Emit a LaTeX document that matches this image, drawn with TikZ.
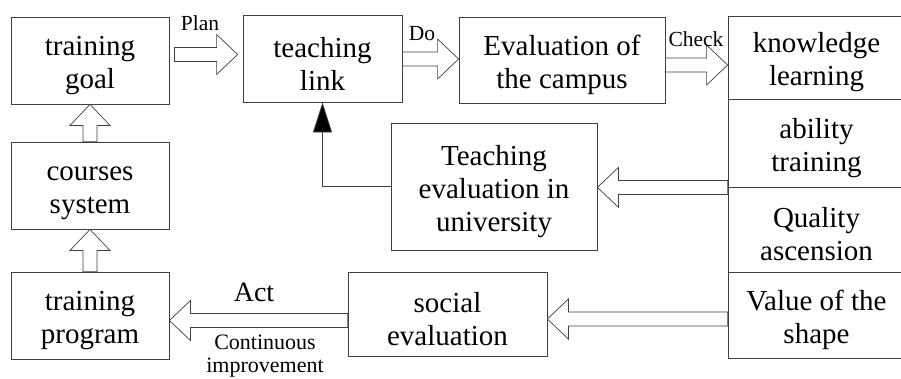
\documentclass[tikz,border=0pt]{standalone}
\usepackage{fontspec}
\setmainfont{Liberation Serif}
\usetikzlibrary{calc,arrows.meta}

% tall first line, so that the text sits a little low in its box
\newcommand{\tstrut}{\rule{0pt}{30pt}}

% block arrow between two points: shaft 14pt wide, head 40pt wide, 21pt long
\newcommand{\fatarrow}[2]{%
  \coordinate (neck) at ($(#2)!21pt!(#1)$);
  \draw[Fat] ($(#1)!7pt!90:(#2)$) -- ($(neck)!7pt!90:(#2)$) -- ($(neck)!20pt!90:(#2)$)
    -- (#2) -- ($(neck)!20pt!-90:(#2)$) -- ($(neck)!7pt!-90:(#2)$) -- ($(#1)!7pt!-90:(#2)$) -- cycle;
}

\begin{document}
\begin{tikzpicture}[x=1pt,y=-1pt]
				\tikzstyle{Box} = [draw=black!75, line width=0.8pt, align=center, inner sep=0pt, minimum height=87, font=\fontsize{29}{33}\selectfont]
				\tikzstyle{Fat} = [draw=black!75, line width=0.7pt, fill=white]
				\tikzstyle{Tag} = [inner sep=0pt, align=center, font=\fontsize{21.5}{26}\selectfont]
				\useasboundingbox (0,0) rectangle (901,378);
				% left column
				\node (goal) at (90,60.5) [Box, minimum width=158] {\tstrut training\\goal};
				\node (courses) at (90,185.5) [Box, minimum width=158] {\tstrut courses\\system};
				\node (program) at (90,315.5) [Box, minimum width=158] {\tstrut training\\program};
				% top row
				\node (link) at (322.5,58.5) [Box, minimum width=159] {\tstrut teaching\\link};
				\node (campus) at (562,60) [Box, minimum width=206, minimum height=86] {\tstrut Evaluation of\\the campus};
				% right column
				\node (know) at (816.5,57.5) [Box, minimum width=177, minimum height=83] {\tstrut knowledge\\learning};
				\node (ability) at (816.5,143) [Box, minimum width=177, minimum height=88] {\tstrut ability\\training};
				\node (quality) at (816.5,229.5) [Box, minimum width=177, minimum height=85] {\tstrut Quality\\ascension};
				\node (value) at (816.5,315) [Box, minimum width=177, minimum height=86] {\tstrut Value of the\\shape};
				% middle
				\node (tevu) at (494,186.5) [Box, minimum width=206, minimum height=127] {\tstrut Teaching\\evaluation in\\university};
				\node (social) at (447.5,314) [Box, minimum width=199, minimum height=84] {\tstrut social\\evaluation};
				% arrows
				\coordinate (plan-s) at ($(goal.east)+(5,-6)$);
				\coordinate (plan-e) at ($(link.west)+(-5,-4)$);
				\fatarrow{plan-s}{plan-e}
				\coordinate (do-s) at ($(link.east)+(0,0.5)$);
				\coordinate (do-e) at ($(campus.west)+(0,-1)$);
				\fatarrow{do-s}{do-e}
				\coordinate (check-s) at ($(campus.east)+(0,5)$);
				\coordinate (check-e) at ($(know.west)+(0,7.5)$);
				\fatarrow{check-s}{check-e}
				\fatarrow{courses.north}{goal.south}
				\fatarrow{program.north}{courses.south}
				\coordinate (ab-s) at (ability.south west);
				\coordinate (ab-e) at (tevu.east |- ab-s);
				\fatarrow{ab-s}{ab-e}
				\coordinate (val-s) at ($(value.west)+(0,4)$);
				\coordinate (val-e) at (social.east |- val-s);
				\fatarrow{val-s}{val-e}
				\coordinate (act-s) at ($(social.west)+(0,6.5)$);
				\coordinate (act-e) at (program.east |- act-s);
				\fatarrow{act-s}{act-e}
				\draw [draw=black!75, line width=0.8pt, -{Triangle[length=30pt, width=19pt, fill=black]}] (tevu.west) -| (link.south);
				% labels
				\node (plan) at (200,23.5) [Tag] {Plan};
				\node (do) at (422,33.5) [Tag] {Do};
				\node (check) at (696,39.5) [Tag] {Check};
				\node (act) at (254,292.5) [Tag, font=\fontsize{28}{34}\selectfont] {Act};
				\node (cont) at (265,335) [Tag, anchor=north, font=\fontsize{22}{23}\selectfont] {Continuous\\improvement};
			\end{tikzpicture}
\end{document}
